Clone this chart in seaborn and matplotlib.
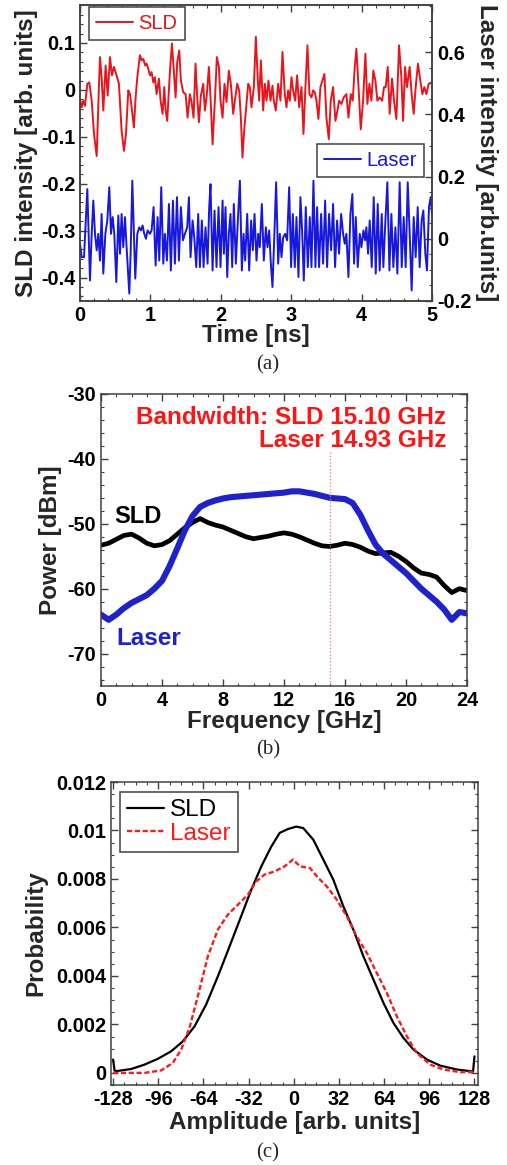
import numpy as np
import pandas as pd
import matplotlib
matplotlib.use("Agg")
import matplotlib.pyplot as plt
import seaborn as sns
from matplotlib.ticker import MultipleLocator, FuncFormatter

# ---------------- Panel (a): time traces ----------------
sld_t = [0.000,0.024,0.047,0.071,0.104,0.132,0.166,0.199,0.237,0.270,
         0.284,0.307,0.331,0.364,0.393,0.426,0.454,0.482,0.520,0.553,
         0.591,0.624,0.653,0.686,0.710,0.733,0.766,0.790,0.814,0.851,
         0.875,0.899,0.927,0.946,0.970,0.993,1.017,1.041,1.064,1.088,
         1.121,1.145,1.173,1.197,1.216,1.239,1.277,1.306,1.334,1.358,
         1.381,1.410,1.433,1.466,1.500,1.528,1.561,1.585,1.613,1.641,
         1.665,1.689,1.717,1.750,1.774,1.798,1.831,1.854,1.883,1.916,
         1.944,1.973,1.996,2.025,2.053,2.081,2.114,2.143,2.176,2.200,
         2.233,2.261,2.285,2.308,2.332,2.365,2.389,2.412,2.436,2.469,
         2.498,2.526,2.545,2.569,2.602,2.625,2.649,2.677,2.706,2.734,
         2.753,2.781,2.815,2.848,2.876,2.909,2.933,2.956,2.980,3.004,
         3.027,3.056,3.084,3.113,3.146,3.174,3.202,3.231,3.259,3.288,
         3.311,3.335,3.359,3.387,3.415,3.444,3.472,3.500,3.534,3.562,
         3.595,3.628,3.657,3.680,3.713,3.746,3.784,3.813,3.846,3.874,
         3.903,3.926,3.959,3.988,4.021,4.054,4.082,4.111,4.139,4.167,
         4.196,4.224,4.257,4.291,4.319,4.343,4.371,4.399,4.432,4.461,
         4.494,4.532,4.565,4.589,4.617,4.645,4.683,4.711,4.740,4.768,
         4.801,4.834,4.863,4.891,4.920,4.953,5.000]
sld_v = [-0.019,-0.037,-0.023,-0.034,0.013,0.016,-0.023,-0.094,-0.141,0.013,
         0.070,0.027,-0.044,0.052,-0.012,0.070,0.031,0.049,0.031,0.013,
         -0.087,-0.130,-0.094,-0.001,-0.009,-0.037,-0.080,-0.016,0.027,0.074,
         0.063,0.066,0.052,0.056,0.045,0.031,0.038,0.016,0.027,-0.009,
         0.024,-0.023,-0.051,0.006,-0.044,-0.066,0.038,0.099,0.038,-0.016,
         0.059,0.084,0.020,-0.005,-0.009,-0.059,-0.009,-0.026,-0.059,0.056,
         -0.016,-0.069,-0.012,0.013,-0.044,-0.016,0.049,-0.016,-0.116,-0.023,
         0.070,0.049,-0.023,-0.059,0.013,-0.026,0.041,0.013,-0.051,-0.023,
         0.013,-0.001,-0.059,-0.144,-0.087,-0.030,0.013,0.006,-0.037,0.006,
         0.113,0.020,-0.023,0.063,-0.044,0.013,-0.023,0.020,-0.023,0.009,
         -0.023,-0.044,0.013,-0.023,0.081,-0.009,-0.037,-0.001,-0.023,0.027,
         -0.001,-0.023,0.031,-0.037,0.006,-0.094,0.006,0.095,-0.009,-0.016,
         -0.001,-0.005,-0.023,-0.062,0.006,0.020,0.034,-0.059,-0.105,-0.023,
         0.006,-0.066,-0.044,-0.023,-0.030,-0.016,-0.009,-0.059,-0.009,-0.023,
         0.049,0.088,-0.001,-0.084,-0.023,0.077,-0.030,0.013,-0.023,0.041,
         0.020,-0.023,-0.016,-0.023,0.006,0.006,0.049,-0.051,0.024,-0.023,
         -0.062,0.095,0.027,-0.066,0.049,0.006,0.049,-0.009,-0.051,0.006,
         0.056,0.020,-0.009,0.006,-0.009,0.013,0.016]

laser_t = [0.000,0.024,0.057,0.085,0.104,0.123,0.142,0.166,0.189,0.213,
           0.237,0.260,0.284,0.307,0.331,0.360,0.388,0.416,0.440,0.464,
           0.487,0.516,0.544,0.568,0.591,0.615,0.639,0.662,0.700,0.719,
           0.743,0.766,0.785,0.814,0.842,0.866,0.889,0.913,0.937,0.960,
           0.993,1.017,1.045,1.074,1.102,1.126,1.154,1.183,1.206,1.235,
           1.263,1.291,1.320,1.348,1.377,1.405,1.433,1.462,1.490,1.523,
           1.547,1.570,1.599,1.623,1.651,1.679,1.703,1.731,1.755,1.783,
           1.812,1.835,1.854,1.883,1.911,1.939,1.968,1.996,2.025,2.044,
           2.067,2.091,2.114,2.138,2.162,2.185,2.214,2.242,2.271,2.299,
           2.323,2.346,2.375,2.403,2.431,2.455,2.479,2.507,2.531,2.554,
           2.583,2.611,2.640,2.663,2.687,2.711,2.734,2.758,2.786,2.815,
           2.838,2.862,2.886,2.914,2.942,2.971,2.999,3.023,3.051,3.075,
           3.103,3.131,3.155,3.179,3.207,3.236,3.264,3.288,3.316,3.344,
           3.368,3.396,3.425,3.453,3.482,3.510,3.538,3.567,3.595,3.623,
           3.652,3.680,3.709,3.737,3.761,3.784,3.813,3.841,3.869,3.893,
           3.917,3.945,3.974,3.997,4.026,4.049,4.068,4.092,4.115,4.144,
           4.172,4.201,4.229,4.257,4.286,4.309,4.338,4.366,4.395,4.423,
           4.451,4.480,4.508,4.541,4.570,4.598,4.626,4.655,4.683,4.711,
           4.740,4.768,4.797,4.825,4.853,4.877,4.905,4.929,4.957,4.981,
           5.000]
laser_v = [-0.016,-0.059,-0.059,0.070,0.160,0.016,-0.134,0.016,0.123,0.016,
           -0.037,0.016,-0.070,0.080,-0.112,0.016,0.059,0.166,0.016,0.070,
           0.016,-0.139,0.075,-0.048,0.080,-0.027,0.070,-0.027,-0.176,-0.048,
           0.187,0.016,-0.128,0.016,0.037,0.027,0.043,0.016,0.000,0.027,
           0.016,0.027,0.102,-0.086,0.070,-0.070,0.166,-0.080,0.016,-0.070,
           0.112,-0.102,0.123,-0.080,0.134,-0.070,0.102,-0.005,0.016,0.037,
           0.134,-0.059,0.059,0.005,-0.091,0.080,-0.091,0.059,-0.091,0.037,
           -0.080,0.102,0.176,-0.102,0.091,-0.091,0.102,-0.091,0.123,-0.048,
           0.102,-0.123,0.016,0.080,-0.091,0.112,-0.080,0.059,0.187,-0.102,
           0.016,-0.070,0.080,-0.102,0.059,-0.037,0.080,-0.070,0.016,-0.027,
           0.112,-0.070,0.037,-0.027,0.027,-0.080,-0.155,-0.005,0.182,-0.080,
           0.016,-0.059,0.005,0.016,-0.005,0.166,-0.091,0.080,-0.091,0.070,
           -0.123,0.134,0.027,-0.134,0.102,-0.091,0.070,-0.091,0.187,-0.091,
           0.102,-0.091,0.080,-0.080,0.123,-0.091,0.080,-0.037,0.112,-0.091,
           0.059,-0.048,0.080,0.016,-0.016,0.016,-0.123,0.080,0.144,-0.080,
           0.070,-0.091,0.016,-0.027,0.027,-0.005,0.037,-0.048,0.059,-0.091,
           0.134,-0.112,0.112,-0.102,0.080,-0.091,0.059,0.182,-0.102,0.080,
           -0.091,0.037,-0.112,0.182,-0.091,0.070,-0.091,0.182,0.016,-0.166,
           0.070,-0.059,0.102,-0.091,0.059,0.091,-0.048,-0.102,0.102,0.134,
           0.080]

# ---------------- Panel (b): RF spectra ----------------
freq_ghz = [0.0,0.5,1.0,1.5,2.0,2.5,3.0,3.5,4.0,4.5,5.0,5.5,6.0,6.5,7.0,7.5,
            8.0,8.5,9.0,9.5,10.0,10.5,11.0,11.5,12.0,12.5,13.0,13.5,14.0,14.5,
            15.0,15.5,16.0,16.5,17.0,17.5,18.0,18.5,19.0,19.5,20.0,20.5,21.0,
            21.5,22.0,22.5,23.0,23.5,24.0]
sld_dbm = [-53.3,-53.0,-52.4,-51.8,-51.6,-52.2,-53.0,-53.4,-53.2,-52.6,-51.6,
           -50.6,-49.8,-49.2,-49.8,-50.2,-50.5,-51.0,-51.5,-52.0,-52.3,-52.1,
           -51.9,-51.6,-51.4,-51.6,-52.0,-52.5,-53.0,-53.4,-53.5,-53.3,-53.0,
           -53.2,-53.6,-54.2,-54.6,-54.5,-54.4,-55.0,-55.8,-56.8,-57.6,-57.8,
           -58.2,-59.5,-60.6,-60.0,-60.3]
laser_dbm = [-64.0,-64.8,-64.0,-63.0,-62.2,-61.6,-61.0,-60.0,-58.8,-56.5,-53.8,
             -51.0,-48.8,-47.4,-46.8,-46.4,-46.1,-45.9,-45.8,-45.7,-45.6,-45.5,
             -45.4,-45.3,-45.2,-45.0,-45.0,-45.2,-45.4,-45.7,-46.0,-46.1,-46.2,
             -46.8,-48.6,-51.0,-53.2,-54.6,-55.6,-56.6,-57.6,-58.8,-60.0,-61.0,
             -62.0,-63.2,-64.8,-63.6,-63.8]
bw_marker_ghz = 15.0
bw_marker_top = -39.0
bw_text = ["Bandwidth: SLD 15.10 GHz", "Laser 14.93 GHz"]

# ---------------- Panel (c): amplitude histograms ----------------
amp_sld = [-128,-127,-126,-115.2,-105.8,-96.3,-86.9,-78.6,-70.3,-62.1,
           -53.8,-45.5,-37.3,-30.1,-23.0,-15.9,-10.0,-4.1,1.7,6.7,
           13.8,20.9,28.0,35.1,42.2,49.3,56.4,63.5,70.6,77.7,
           84.8,94.3,103.7,115.5,125,127,128]
prob_sld = [0.00055,0.00010,0.00007,0.00016,0.00034,0.00058,0.00089,0.00130,0.00192,0.00282,
            0.00398,0.00522,0.00646,0.00756,0.00852,0.00934,0.00990,0.01006,0.01016,0.01010,
            0.00962,0.00880,0.00797,0.00687,0.00591,0.00481,0.00385,0.00289,0.00206,0.00144,
            0.00096,0.00055,0.00030,0.00014,0.00007,0.00005,0.00068]
amp_laser = [-128,-105.8,-94,-85.7,-79.8,-73.9,-68,-60.9,-53.8,-46.7,
             -39.6,-32.5,-26.6,-20.7,-13.6,-6.5,-0.6,4.4,11.5,17.4,
             23.3,30.4,37.5,44.6,51.7,58.8,65.9,73,80.1,87.1,
             96.6,106,117.9,128]
prob_laser = [0.00000,0.00000,0.00010,0.00041,0.00096,0.00186,0.00316,0.00481,0.00591,0.00653,
              0.00694,0.00735,0.00790,0.00818,0.00831,0.00852,0.00880,0.00852,0.00845,0.00804,
              0.00770,0.00715,0.00646,0.00563,0.00495,0.00412,0.00330,0.00233,0.00151,0.00082,
              0.00034,0.00014,0.00003,0.00003]

# ---------------- style ----------------
sns.set_theme(style="ticks")
plt.rcParams['font.family'] = ['Liberation Sans', 'DejaVu Sans']
plt.rcParams.update({
    'font.weight': 'bold',
    'axes.labelweight': 'bold',
    'axes.edgecolor': '#404040',
    'axes.linewidth': 1.1,
    'xtick.labelsize': 14.3,
    'ytick.labelsize': 14.3,
    'axes.labelsize': 17.5,
    'xtick.direction': 'in',
    'ytick.direction': 'in',
    'xtick.major.size': 5,
    'ytick.major.size': 5,
    'xtick.minor.size': 2.5,
    'ytick.minor.size': 2.5,
    'xtick.major.width': 1.0,
    'ytick.major.width': 1.0,
    'xtick.minor.width': 0.8,
    'ytick.minor.width': 0.8,
    'xtick.color': '#404040',
    'ytick.color': '#404040',
    'xtick.labelcolor': 'black',
    'ytick.labelcolor': 'black',
    'axes.unicode_minus': False,
})

RED = '#e8161c'
BLUE = '#1818dc'
BLUE_B = '#1e22cc'

W, H = 507, 1165
fig = plt.figure(figsize=(W / 100, H / 100), dpi=100)

def frac(l, t, r, b):
    return [l / W, 1 - b / H, (r - l) / W, (b - t) / H]

# ===== (a) =====
axa = fig.add_axes(frac(80, 5, 432, 301))
axa2 = axa.twinx()
df_s = pd.DataFrame({'t': sld_t, 'v': sld_v})
df_l = pd.DataFrame({'t': laser_t, 'v': laser_v})
sns.lineplot(data=df_s, x='t', y='v', ax=axa, color=RED, lw=1.4,
             estimator=None, sort=False, label='SLD')
sns.lineplot(data=df_l, x='t', y='v', ax=axa2, color=BLUE, lw=1.4,
             estimator=None, sort=False, label='Laser')
axa.set_xlim(0, 5)
axa.set_ylim(-0.45, 0.181)
axa2.set_ylim(-0.2, 0.752)
axa.xaxis.set_major_locator(MultipleLocator(1))
axa.xaxis.set_minor_locator(MultipleLocator(0.2))
axa.yaxis.set_major_locator(MultipleLocator(0.1))
axa.yaxis.set_minor_locator(MultipleLocator(0.02))
axa2.yaxis.set_major_locator(MultipleLocator(0.2))
axa2.yaxis.set_minor_locator(MultipleLocator(0.05))
axa.yaxis.set_major_formatter(FuncFormatter(lambda v, p: ('%g' % round(v, 3))))
axa2.yaxis.set_major_formatter(FuncFormatter(lambda v, p: ('%g' % round(v, 3))))
axa.tick_params(which='both', top=True, right=False)
axa2.tick_params(which='both', left=False, right=True)
axa.set_xlabel('Time [ns]')
axa.set_ylabel('SLD intensity [arb. units]')
axa2.set_ylabel('Laser intensity [arb.units]', rotation=270)
axa.xaxis.label.set_va('center')
axa.xaxis.set_label_coords(0.5, -0.115)
axa.yaxis.label.set_va('center')
axa.yaxis.set_label_coords(-0.151, 0.5)
axa2.yaxis.label.set_va('center')
axa2.yaxis.set_label_coords(1.156, 0.5)
legp = dict(frameon=True, fancybox=False, framealpha=1, edgecolor='#404040',
            prop={'weight': 'normal', 'size': 14.5}, labelcolor='linecolor',
            handlelength=1.85, handletextpad=0.25, borderpad=0.35,
            borderaxespad=0)
lg1 = axa.legend(loc='upper left', bbox_to_anchor=(0.026, 0.993), **legp)
lg2 = axa2.legend(loc='upper left', bbox_to_anchor=(0.673, 0.530), **legp)
for lg in (lg1, lg2):
    lg.get_frame().set_linewidth(1.1)
axa2.set_zorder(axa.get_zorder() + 1)
axa2.patch.set_visible(False)

# ===== (b) =====
axb = fig.add_axes(frac(101, 394, 467, 686))
df_sld_sp = pd.DataFrame({'f': freq_ghz, 'p': sld_dbm})
df_las_sp = pd.DataFrame({'f': freq_ghz, 'p': laser_dbm})
sns.lineplot(data=df_sld_sp, x='f', y='p', ax=axb, color='black', lw=3.4,
             estimator=None, sort=False)
sns.lineplot(data=df_las_sp, x='f', y='p', ax=axb, color=BLUE_B, lw=4.4,
             estimator=None, sort=False)
axb.plot([bw_marker_ghz, bw_marker_ghz], [bw_marker_top, -75], ls=':',
         color='#f07a7a', lw=0.9)
axb.set_xlim(0, 24)
axb.set_ylim(-75, -30)
axb.xaxis.set_major_locator(MultipleLocator(4))
axb.xaxis.set_minor_locator(MultipleLocator(1))
axb.yaxis.set_major_locator(MultipleLocator(10))
axb.yaxis.set_minor_locator(MultipleLocator(2))
axb.tick_params(which='both', top=True, right=True)
axb.set_xlabel('Frequency [GHz]')
axb.set_ylabel('Power [dBm]')
axb.xaxis.label.set_va('center')
axb.xaxis.set_label_coords(0.5, -0.123)
axb.yaxis.label.set_va('center')
axb.yaxis.set_label_coords(-0.139, 0.5)
axb.text(22.65, -33.6, bw_text[0], color='#ff1414', fontsize=17.5,
         fontweight='bold', ha='right', va='center')
axb.text(22.65, -37.2, bw_text[1], color='#ff1414', fontsize=17.5,
         fontweight='bold', ha='right', va='center')
axb.text(0.9, -48.9, 'SLD', color='black', fontsize=17, fontweight='bold',
         ha='left', va='center')
axb.text(1.0, -67.7, 'Laser', color=BLUE_B, fontsize=17.5, fontweight='bold',
         ha='left', va='center')

# ===== (c) =====
axc = fig.add_axes(frac(111, 782, 478, 1085))
df_hs = pd.DataFrame({'a': amp_sld, 'p': prob_sld})
df_hl = pd.DataFrame({'a': amp_laser, 'p': prob_laser})
sns.lineplot(data=df_hs, x='a', y='p', ax=axc, color='black', lw=1.6,
             estimator=None, sort=False, label='SLD')
sns.lineplot(data=df_hl, x='a', y='p', ax=axc, color='#ff1a1a', lw=1.7,
             estimator=None, sort=False, label='Laser', linestyle=(0, (2.2, 1.1)))
axc.set_xlim(-129.5, 130.5)
axc.set_ylim(-0.0005, 0.012)
axc.xaxis.set_major_locator(MultipleLocator(32))
axc.xaxis.set_minor_locator(MultipleLocator(8))
axc.yaxis.set_major_locator(MultipleLocator(0.002))
axc.yaxis.set_minor_locator(MultipleLocator(0.0005))
axc.yaxis.set_major_formatter(FuncFormatter(lambda v, p: ('%g' % round(v, 4))))
axc.tick_params(which='both', top=True, right=True)
axc.set_xlabel('Amplitude [arb. units]')
axc.set_ylabel('Probability')
axc.xaxis.label.set_va('center')
axc.xaxis.set_label_coords(0.5, -0.125)
axc.yaxis.label.set_va('center')
axc.yaxis.set_label_coords(-0.204, 0.5)
legc = dict(legp)
legc['prop'] = {'weight': 'normal', 'size': 17.5}
legc['handlelength'] = 1.5
legc['labelspacing'] = 0.05
legc['borderpad'] = 0.3
lg3 = axc.legend(loc='upper left', bbox_to_anchor=(0.025, 0.967), **legc)
lg3.get_frame().set_linewidth(1.1)

# captions
for ycap, cap in [(365, '(a)'), (750, '(b)'), (1153, '(c)')]:
    fig.text(268 / W, 1 - ycap / H, cap, ha='center', va='center',
             family=['Liberation Serif', 'DejaVu Serif'], fontweight='normal',
             fontsize=15)

fig.savefig('out.png', dpi=100)
